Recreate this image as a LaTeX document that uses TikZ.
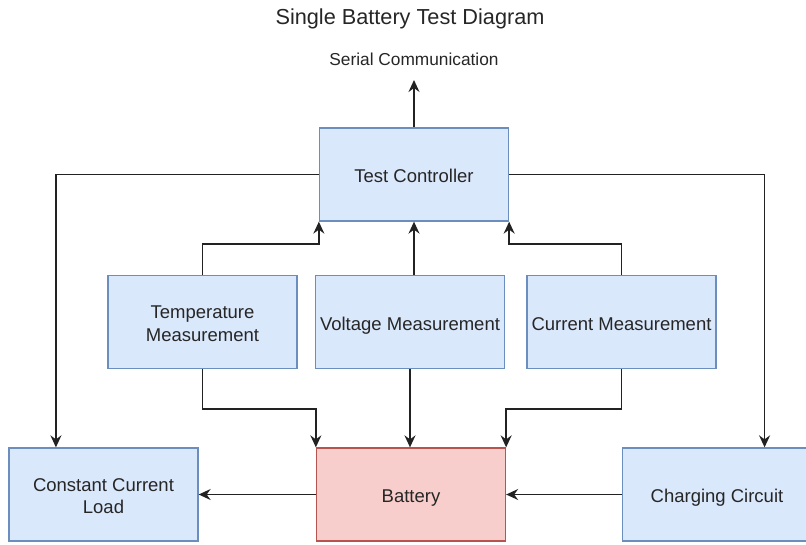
\documentclass[tikz,border=0pt]{standalone}
\usepackage{fontspec}
\setmainfont{Liberation Sans}
\usepackage{tikz}
\usetikzlibrary{positioning,arrows.meta,calc}
\definecolor{boxfill}{HTML}{DAE8FC}
\definecolor{boxline}{HTML}{6C8EBF}
\definecolor{batfill}{HTML}{F8CECC}
\definecolor{batline}{HTML}{B85450}
\definecolor{wire}{HTML}{222222}
\newcommand{\tstrut}{\rule{0pt}{20pt}}

\begin{document}
\begin{tikzpicture}[x=1pt,y=-1pt,font=\fontsize{18.5}{22.5}\selectfont]
% ---- styles ----
\tikzstyle{blockbox}=[draw=boxline,fill=boxfill,line width=1.3pt,align=center,
  minimum width=189pt,minimum height=93pt,inner sep=1pt,text=black!85,
  execute at end node={\rule[-4pt]{0pt}{4pt}}]
\tikzstyle{batbox}=[blockbox,draw=batline,fill=batfill]
\tikzstyle{link}=[-{Stealth[length=12pt,width=11pt,inset=4pt]},draw=wire,
  line width=1.5pt]

\useasboundingbox (0,0) rectangle (806,544);
\clip (0,0) rectangle (806,544);

% ---- labels ----
\node[font=\fontsize{21.7}{26}\selectfont,text=black!85] (title) at (410,19)
  {Single Battery Test Diagram};
\node[font=\fontsize{17.3}{20}\selectfont,text=black!85] (serial) at (414,59)
  {Serial Communication};
\coordinate (serialin) at (414,80);

% ---- controller ----
\node[blockbox] (tc) at (414,174.5) {\tstrut Test Controller};

% ---- measurement blocks ----
\node[blockbox] (temp) at (202.5,322) {\tstrut Temperature\\Measurement};
\node[blockbox] (volt) at (410,322) {\tstrut Voltage Measurement};
\node[blockbox] (curr) at (621.5,322) {\tstrut Current Measurement};

% ---- bottom row ----
\node[blockbox] (ccl) at (103.5,494.5) {\tstrut Constant Current\\Load};
\node[batbox] (bat) at (411,494.5) {\tstrut Battery};
\node[blockbox] (chg) at (717,494.5) {\tstrut Charging Circuit};

% ---- connectors ----
\draw[link] (tc.north) -- (serialin);
\draw[link] (tc.west) -| ($(ccl.north west)!0.25!(ccl.north east)$);
\draw[link] (tc.east) -| ($(chg.north west)!0.75!(chg.north east)$);

\draw[link] (temp.north) -- ++(0,-31) -| (tc.south west);
\draw[link] (tc.south |- volt.north) -- (tc.south);
\draw[link] (curr.north) -- ++(0,-31) -| (tc.south east);

\draw[link] (temp.south) -- ++(0,40) -| (bat.north west);
\draw[link] (volt.south) -- (volt.south |- bat.north);
\draw[link] (curr.south) -- ++(0,40) -| (bat.north east);

\draw[link] (bat.west) -- (ccl.east);
\draw[link] (chg.west) -- (bat.east);

\end{tikzpicture}
\end{document}
